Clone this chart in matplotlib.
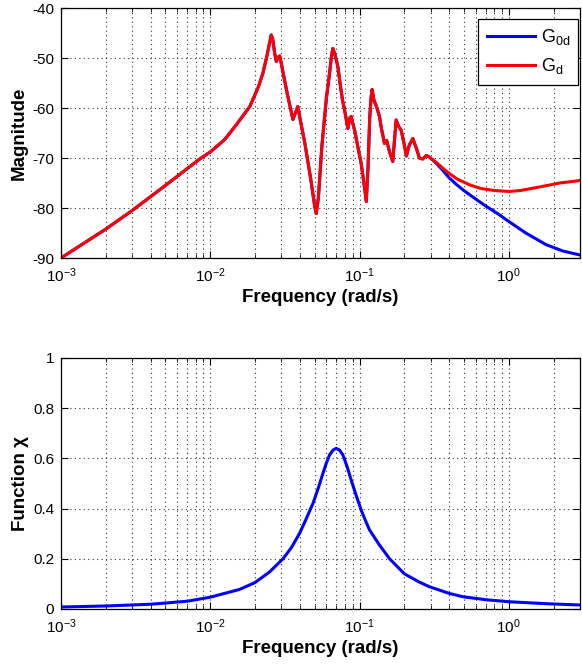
import matplotlib
matplotlib.use("Agg")
import matplotlib.pyplot as plt
from matplotlib.ticker import LogLocator, FixedLocator, NullFormatter

plt.rcParams['font.family'] = ['Liberation Sans', 'DejaVu Sans']
plt.rcParams['mathtext.fontset'] = 'custom'
plt.rcParams['mathtext.rm'] = 'Liberation Sans'
plt.rcParams['mathtext.it'] = 'Liberation Sans:italic'
plt.rcParams['mathtext.bf'] = 'Liberation Sans:bold'
plt.rcParams['mathtext.default'] = 'regular'
plt.rcParams['axes.unicode_minus'] = False

# ---- data: shared part of the magnitude curves (rad/s, dB) ----
freq_common = [0.001, 0.002, 0.003, 0.005, 0.0085, 0.010, 0.0125, 0.0150, 0.0184,
               0.0210, 0.0225, 0.0240, 0.0256, 0.0262, 0.0270, 0.0277, 0.0285,
               0.0292, 0.0298, 0.0310, 0.0330, 0.0358, 0.0372, 0.0386, 0.0400,
               0.0430, 0.0470, 0.0500, 0.0513, 0.0530, 0.0560, 0.0600, 0.0630,
               0.0650, 0.0662, 0.0680, 0.0700, 0.0716, 0.0740, 0.0770, 0.0794,
               0.0836, 0.0860, 0.0879, 0.0900, 0.0930, 0.0970, 0.1026, 0.1070,
               0.1110, 0.1140, 0.1170, 0.1197, 0.1215, 0.1250, 0.1300, 0.1360,
               0.1400, 0.1470, 0.1520, 0.1580, 0.1670, 0.1720, 0.1760, 0.1830,
               0.1900, 0.2000, 0.2060, 0.2150, 0.2275, 0.2400, 0.2520, 0.2650,
               0.2800, 0.2930]
mag_common = [-90.0, -84.2, -80.5, -75.5, -70.2, -68.8, -66.3, -63.3, -59.7,
              -55.8, -53.1, -49.5, -45.4, -46.2, -49.0, -50.7, -49.8,
              -49.6, -50.8, -53.5, -57.5, -62.3, -61.0, -59.7, -62.2,
              -67.0, -74.0, -79.5, -81.1, -78.0, -67.5, -58.0, -53.0,
              -49.5, -48.1, -49.0, -50.5, -51.7, -55.0, -58.5, -60.4,
              -64.1, -62.0, -61.7, -63.0, -64.6, -67.5, -71.1, -75.0,
              -78.7, -72.0, -62.0, -57.7, -56.3, -58.5, -59.7, -61.7,
              -64.0, -67.1, -66.5, -68.5, -70.7, -66.0, -62.4, -63.7,
              -64.4, -67.5, -69.6, -67.5, -66.1, -68.0, -70.0, -70.2,
              -69.5, -69.8]

# ---- high-frequency tails ----
freq_tail_g0d = [0.32, 0.35, 0.40, 0.45, 0.50, 0.60, 0.70, 0.85, 1.0, 1.3, 1.77, 2.3, 3.0]
mag_tail_g0d = [-70.8, -72.0, -74.0, -75.4, -76.5, -78.2, -79.6, -81.2, -82.7,
                -85.0, -87.3, -88.6, -89.4]
freq_tail_gd = [0.33, 0.38, 0.45, 0.55, 0.65, 0.80, 1.0, 1.2, 1.6, 2.2, 3.0]
mag_tail_gd = [-71.0, -72.6, -74.2, -75.4, -76.1, -76.5, -76.7, -76.5, -75.8, -75.0, -74.5]

# ---- function chi ----
freq_chi = [0.001, 0.002, 0.004, 0.007, 0.010, 0.0157, 0.0199, 0.025, 0.0307,
            0.035, 0.0397, 0.0440, 0.0488, 0.0530, 0.0569, 0.0600, 0.0630,
            0.0665, 0.0698, 0.0735, 0.0773, 0.0825, 0.0879, 0.095, 0.1026,
            0.1100, 0.1167, 0.136, 0.159, 0.2, 0.25, 0.293, 0.4, 0.491, 0.7,
            1.0, 1.8, 3.0]
chi_vals = [0.008, 0.012, 0.019, 0.031, 0.047, 0.078, 0.105, 0.148, 0.200,
            0.245, 0.302, 0.360, 0.421, 0.483, 0.541, 0.582, 0.614,
            0.633, 0.640, 0.633, 0.614, 0.568, 0.514, 0.452, 0.394,
            0.350, 0.315, 0.255, 0.200, 0.140, 0.108, 0.089, 0.062, 0.049, 0.037,
            0.029, 0.021, 0.016]

legend_labels = ['$G_{0d}$', '$G_{d}$']
xlabel_text = 'Frequency (rad/s)'

W, H = 582, 665
fig = plt.figure(figsize=(W / 100, H / 100), dpi=100)
ax1 = fig.add_axes([61 / W, 1 - 258 / H, 519 / W, 250 / H])
ax2 = fig.add_axes([61 / W, 1 - 609 / H, 519 / W, 251 / H])

g0d_f = freq_common + freq_tail_g0d
g0d_m = mag_common + mag_tail_g0d
gd_f = freq_common + freq_tail_gd
gd_m = mag_common + mag_tail_gd

ax1.plot(g0d_f, g0d_m, color='#0000ff', lw=2.2, label=legend_labels[0])
ax1.plot(gd_f, gd_m, color='#ff0000', lw=2.2, label=legend_labels[1])
ax2.plot(freq_chi, chi_vals, color='#0000ff', lw=2.2)

grid_kw = dict(color='#333333', linestyle=(0, (1, 3)), linewidth=0.8)
for ax in (ax1, ax2):
    ax.set_xscale('log')
    ax.set_xlim(1e-3, 3)
    ax.xaxis.set_major_locator(FixedLocator([1e-3, 1e-2, 1e-1, 1e0]))
    ax.xaxis.set_minor_locator(LogLocator(base=10, subs=range(2, 10), numticks=20))
    ax.xaxis.set_minor_formatter(NullFormatter())
    ax.grid(True, which='major', **grid_kw)
    ax.grid(True, which='minor', axis='x', **grid_kw)
    ax.tick_params(which='both', direction='in', top=True, right=True,
                   labelsize=11, colors='black')
    ax.tick_params(axis='y', pad=5)
    ax.tick_params(axis='x', pad=6)
    ax.tick_params(which='major', length=5, width=0.8)
    ax.tick_params(which='minor', length=3, width=0.6)
    for s in ax.spines.values():
        s.set_linewidth(0.9)
    ax.set_xlabel(xlabel_text, fontsize=13.5, fontweight='bold', labelpad=3)
    ax.set_axisbelow(True)

ax1.set_ylim(-90, -40)
ax1.set_yticks([-90, -80, -70, -60, -50, -40])
ax1.set_ylabel('Magnitude', fontsize=13.5, fontweight='bold', labelpad=3)

ax2.set_ylim(0, 1)
ax2.set_yticks([0, 0.2, 0.4, 0.6, 0.8, 1])
ax2.set_yticklabels(['0', '0.2', '0.4', '0.6', '0.8', '1'])
ax2.set_ylabel('Function χ', fontsize=13.5, fontweight='bold', labelpad=3)

leg = ax1.legend(loc='upper right', bbox_to_anchor=(0.9967, 0.955),
                 fontsize=13, fancybox=False, framealpha=1,
                 edgecolor='black', borderaxespad=0, handlelength=2.7,
                 handletextpad=0.3, labelspacing=0.5, borderpad=0.45)
leg.get_frame().set_linewidth(0.9)

fig.savefig('out.png', dpi=100)
